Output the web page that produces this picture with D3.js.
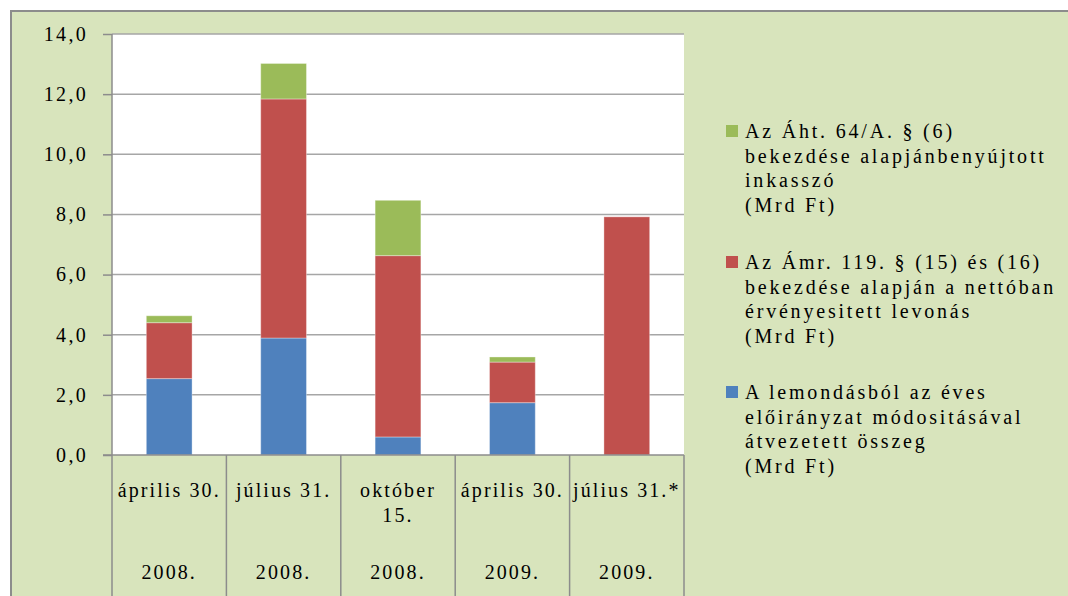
<!DOCTYPE html>
<html>
<head>
<meta charset="utf-8">
<script src="https://cdn.jsdelivr.net/npm/d3@7"></script>
<style>
  body { margin: 0; background: #fff; }
  text { font-family: "Liberation Serif", "Times New Roman", serif; fill: #000; }
</style>
</head>
<body>
<div id="chart"></div>
<script>
// categories (two-row axis labels)
let dateLabels = [["április 30."], ["július 31."], ["október", "15."], ["április 30."], ["július 31.*"]];
let yearLabels = ["2008.", "2008.", "2008.", "2009.", "2009."];
// series values (Mrd Ft), bottom to top
let lemondas = [2.54, 3.89, 0.6, 1.74, 0];
let amr = [1.86, 7.95, 6.03, 1.35, 7.92];
let inkasszo = [0.23, 1.18, 1.84, 0.17, 0];
let yTicks = [0, 2, 4, 6, 8, 10, 12, 14];

let seriesNames = [
  ["Az Áht. 64/A. § (6)", "bekezdése alapjánbenyújtott", "inkasszó", "(Mrd Ft)"],
  ["Az Ámr. 119. § (15) és (16)", "bekezdése alapján a nettóban", "érvényesitett levonás", "(Mrd Ft)"],
  ["A lemondásból az éves", "előirányzat módositásával", "átvezetett összeg", "(Mrd Ft)"]
];
let colors = { lemondas: "#4F81BD", amr: "#C0504D", inkasszo: "#9BBB59" };

function drawChart() {
  let W = 1068, H = 596;
  let plot = { left: 112, right: 684, top: 34, bottom: 455 };

  let svg = d3.select("#chart").append("svg")
    .attr("width", W).attr("height", H);

  // outer chart area
  svg.append("rect").attr("x", 11).attr("y", 11)
    .attr("width", W - 11).attr("height", H - 11)
    .attr("fill", "#D8E4BC");
  svg.append("path").attr("d", `M11,${H} V11 H${W}`)
    .attr("fill", "none").attr("stroke", "#8c8c8c").attr("stroke-width", 2);

  // plot area
  svg.append("rect")
    .attr("x", plot.left).attr("y", plot.top)
    .attr("width", plot.right - plot.left).attr("height", plot.bottom - plot.top)
    .attr("fill", "#fff");

  let keys = dateLabels.map((d, i) => i);
  let x = d3.scaleBand().domain(keys)
    .range([plot.left, plot.right])
    .paddingInner(0.6).paddingOuter(0.3);
  let y = d3.scaleLinear().domain([0, 14]).range([plot.bottom, plot.top]);

  // gridlines
  svg.append("g").selectAll("line").data(yTicks.filter(t => t > 0)).join("line")
    .attr("x1", plot.left).attr("x2", plot.right)
    .attr("y1", d => y(d)).attr("y2", d => y(d))
    .attr("stroke", "#a6a6a6").attr("stroke-width", 1.5);

  // stacked bars
  let rows = keys.map(i => ({ i: i, lemondas: lemondas[i], amr: amr[i], inkasszo: inkasszo[i] }));
  let stacked = d3.stack().keys(["lemondas", "amr", "inkasszo"])(rows);
  svg.append("g").selectAll("g").data(stacked).join("g")
    .attr("fill", d => colors[d.key])
    .selectAll("rect").data(d => d.filter(p => p[1] - p[0] > 0)).join("rect")
    .attr("x", d => x(d.data.i))
    .attr("width", x.bandwidth())
    .attr("y", d => y(d[1]))
    .attr("height", d => y(d[0]) - y(d[1]))
    .attr("stroke", "#ffffff").attr("stroke-opacity", 0.35).attr("stroke-width", 1);

  // y axis
  let yAxis = svg.append("g")
    .attr("transform", `translate(${plot.left},0)`)
    .call(d3.axisLeft(y).tickValues(yTicks).tickSize(9).tickPadding(15)
      .tickFormat(d => d3.format(".1f")(d).replace(".", ",")));
  yAxis.select(".domain").remove();
  yAxis.selectAll(".tick line").attr("stroke", "#8c8c8c").attr("stroke-width", 1.5);
  yAxis.selectAll(".tick text")
    .style("font-family", "'Liberation Serif', serif")
    .style("font-size", "20px").style("letter-spacing", "2.3px").attr("fill", "#000");

  // y axis line, extended down through the category table
  svg.append("line").attr("x1", plot.left).attr("x2", plot.left)
    .attr("y1", plot.top).attr("y2", H)
    .attr("stroke", "#8c8c8c").attr("stroke-width", 1.5);

  // x axis line and category separators
  svg.append("line").attr("x1", plot.left - 9).attr("x2", plot.right)
    .attr("y1", plot.bottom).attr("y2", plot.bottom)
    .attr("stroke", "#8c8c8c").attr("stroke-width", 1.5);
  let step = x.step();
  svg.append("g").selectAll("line").data(keys).join("line")
    .attr("x1", d => x(d) + x.bandwidth() / 2 + step / 2)
    .attr("x2", d => x(d) + x.bandwidth() / 2 + step / 2)
    .attr("y1", plot.bottom).attr("y2", H)
    .attr("stroke", "#8c8c8c").attr("stroke-width", 1.5);

  // category labels
  let cat = svg.append("g").selectAll("g").data(keys).join("g")
    .attr("transform", d => `translate(${x(d) + x.bandwidth() / 2},0)`);
  cat.each(function(d) {
    let g = d3.select(this);
    dateLabels[d].forEach((line, j) => {
      g.append("text").attr("text-anchor", "middle")
        .attr("y", 497 + j * 25)
        .style("font-size", "20px").style("letter-spacing", "2.1px")
        .text(line);
    });
    g.append("text").attr("text-anchor", "middle")
      .attr("y", 579)
      .style("font-size", "20px").style("letter-spacing", "2.1px")
      .text(yearLabels[d]);
  });

  // legend
  let legendKeys = ["inkasszo", "amr", "lemondas"];
  let legendY = [131, 262, 392];
  let legend = svg.append("g").selectAll("g").data(legendKeys).join("g")
    .attr("transform", (d, i) => `translate(726,${legendY[i]})`);
  legend.append("rect")
    .attr("x", 0).attr("y", -6).attr("width", 12).attr("height", 12)
    .attr("fill", d => colors[d]);
  legend.each(function(d, i) {
    let g = d3.select(this);
    seriesNames[i].forEach((line, j) => {
      g.append("text").attr("x", 19).attr("y", 7 + j * 24.7)
        .style("font-size", "20px").style("letter-spacing", "2.8px")
        .text(line);
    });
  });
}
drawChart();
</script>
</body>
</html>
